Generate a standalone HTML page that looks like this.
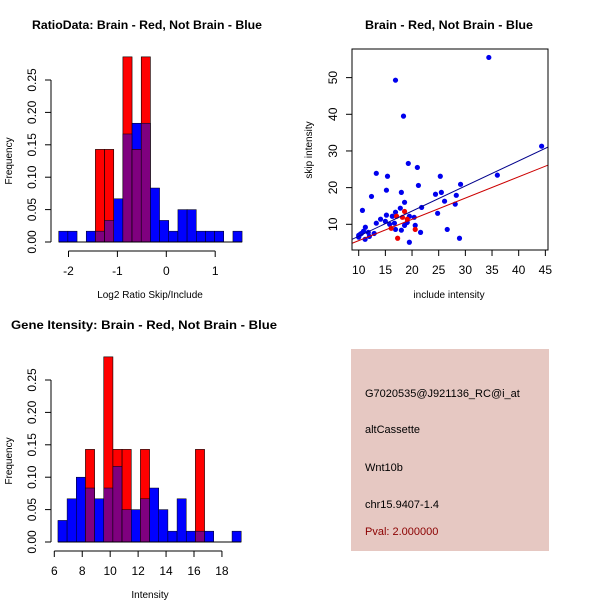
<!DOCTYPE html>
<html><head><meta charset="utf-8"><style>
body{margin:0;background:#fff}
svg{display:block;font-family:"Liberation Sans",sans-serif}
</style></head><body>
<svg id="c" width="600" height="600" viewBox="0 0 600 600">
<rect x="0" y="0" width="600" height="600" fill="#fff"/>
</svg>
<script>
// ---- Panel 1: ratio histogram ----
const ratioBinStart = -2.2;
const ratioBinWidth = 0.1875;
const ratioBlue = [0.0167,0.0167,0,0.0167,0.0167,0.0333,0.0667,0.1667,0.1833,0.1833,0.0833,0.0333,0.0167,0.05,0.05,0.0167,0.0167,0.0167,0,0.0167];
const ratioRed  = [0,0,0,0,0.1429,0.1429,0,0.2857,0.1429,0.2857,0,0,0,0,0,0,0,0,0,0];
const ratioXTicks = [-2,-1,0,1];
const freqTicks = [0,0.05,0.10,0.15,0.20,0.25];
const freqTickLabels = ["0.00","0.05","0.10","0.15","0.20","0.25"];
// ---- Panel 3: intensity histogram ----
const intBinStart = 6.26;
const intBinWidth = 0.656;
const intBlue = [0.0333,0.0667,0.1,0.0833,0.0667,0.0833,0.1167,0.05,0.05,0.0667,0.0833,0.05,0.0167,0.0667,0.0167,0.0167,0.0167,0,0,0.0167];
const intRed  = [0,0,0,0.1429,0,0.2857,0.1429,0.1429,0,0.1429,0,0,0,0,0,0.1429,0,0,0,0];
const intXTicks = [6,8,10,12,14,16,18];
// ---- Panel 2: scatter ----
const blueX = [34.4,16.9,18.4,44.3,36,19.3,21,13.3,15.4,25.3,29.1,21.2,15.2,18,25.5,24.4,28.3,12.4,26.1,18.6,28.1,21.8,17.8,10.7,16.9,15.2,24.8,16.3,19.5,20.4,14.1,15,13.3,15.8,16.7,20.6,19.1,18.6,11.25,18,16.9,26.6,21.6,12.9,10.3,10,10.9,11.8,11.2,12,28.9,19.5,10,10.5];
const blueY = [55.5,49.3,39.5,31.3,23.4,26.6,25.5,23.9,23.1,23.1,20.9,20.6,19.3,18.7,18.7,18.2,17.9,17.6,16.3,16,15.5,14.6,14.4,13.8,13.3,12.5,13,12.2,12.2,11.9,11.4,10.8,10.3,10,10.3,9.7,10.5,9.7,9.2,8.4,8.6,8.6,7.8,7.5,7.3,7,8.1,7.8,5.9,6.7,6.2,5.1,6.5,7.5];
const redX = [18.6,18.2,19.1,17.3,20.6,16.1,17.1];
const redY = [13.5,11.9,11.4,6.2,8.6,8.9,12.2];
const fitIntercepts = [-0.1,-0.25]; // blue, red
const fitSlopes = [0.685,0.58];
const scXTicks = [10,15,20,25,30,35,40,45];
const scYTicks = [10,20,30,40,50];

const svg = document.getElementById('c');
const NS = 'http://www.w3.org/2000/svg';
function mk(tag, attrs, parent){const e=document.createElementNS(NS,tag);for(const k in attrs)e.setAttribute(k,attrs[k]);(parent||svg).appendChild(e);return e;}
function txt(s, attrs, parent){const e=mk('text',attrs,parent);e.textContent=s;return e;}

function hist(g, xs, start, width, blue, red, xticks, yBase, xlabel, title, titleX, titleLen){
  const X=v=>xs.x0+(v-xs.v0)*xs.k;
  const Y=v=>yBase-v*648;
  for(let i=0;i<blue.length;i++){
    const x0=X(start+i*width), x1=X(start+(i+1)*width);
    const b=blue[i], r=red[i], m=Math.min(b,r);
    if(b>0){const e=mk('rect',{x:x0,y:Y(b),width:x1-x0,height:b*648,fill:'#0000ff',stroke:'#000','stroke-width':0.5},g);
      }
    if(r>0){const e=mk('rect',{x:x0,y:Y(r),width:x1-x0,height:r*648,fill:'#ff0000',stroke:'#000','stroke-width':0.6},g);
      }
    if(m>0){const e=mk('rect',{x:x0,y:Y(m),width:x1-x0,height:m*648,fill:'#7f007f',stroke:'#000','stroke-width':0.5},g);
      }
  }
  mk('line',{x1:X(start),x2:X(start+blue.length*width),y1:yBase,y2:yBase,stroke:'#000'},g);
  const ax=mk('g',{},g);
  const ya=yBase+9;
  mk('line',{x1:X(xticks[0]),x2:X(xticks[xticks.length-1]),y1:ya,y2:ya,stroke:'#000'},ax);
  xticks.forEach(t=>{mk('line',{x1:X(t),x2:X(t),y1:ya,y2:ya+6,stroke:'#000'},ax);
    txt(String(t),{x:X(t),y:ya+24,'font-size':12,'text-anchor':'middle'},ax);});
  const ay=mk('g',{},g);
  const xa=51;
  mk('line',{x1:xa,x2:xa,y1:Y(0),y2:Y(0.25),stroke:'#000'},ay);
  freqTicks.forEach((t,i)=>{mk('line',{x1:xa-6,x2:xa,y1:Y(t),y2:Y(t),stroke:'#000'},ay);
    txt(freqTickLabels[i],{x:0,y:0,'font-size':12,'text-anchor':'middle',transform:`translate(36,${Y(t)}) rotate(-90)`},ay);});
  const yl=txt('Frequency',{x:0,y:0,'font-size':10,'text-anchor':'middle',transform:`translate(12,${Y(0.125)}) rotate(-90)`},g);
  
  const xl=txt(xlabel,{x:150,y:yBase+56,'font-size':10,'text-anchor':'middle'},g);
  
  const tt=txt(title,{x:titleX,y:yBase-213,'font-size':12,'font-weight':'bold','text-anchor':'middle',textLength:titleLen,lengthAdjust:'spacingAndGlyphs'},g);
  
}
const g1=mk('g',{});
hist(g1,{x0:166.3,v0:0,k:48.9},ratioBinStart,ratioBinWidth,ratioBlue,ratioRed,ratioXTicks,242,'Log2 Ratio Skip/Include','RatioData: Brain - Red, Not Brain - Blue',147,230);
const g3=mk('g',{});
hist(g3,{x0:54.3,v0:6,k:13.97},intBinStart,intBinWidth,intBlue,intRed,intXTicks,542,'Intensity','Gene Itensity: Brain - Red, Not Brain - Blue',144,266);

// scatter
const g2=mk('g',{});
const SX=v=>358.7+(v-10)*5.333, SY=v=>224.3-(v-10)*3.667;
const L=352,R=548,T=49,B=250;
const clip=mk('clipPath',{id:'sc'},g2);mk('rect',{x:L,y:T,width:R-L,height:B-T},clip);
const pts=mk('g',{'clip-path':'url(#sc)'},g2);
blueX.forEach((x,i)=>{const c=mk('circle',{cx:SX(x),cy:SY(blueY[i]),r:2.6,fill:'#0000ee'},pts);
  });
redX.forEach((x,i)=>{const c=mk('circle',{cx:SX(x),cy:SY(redY[i]),r:2.6,fill:'#ee0000'},pts);
  });
const lineCols=['#00008b','#cc0000'];
fitIntercepts.forEach((a,i)=>{const xa=8.5,xb=46;const l=mk('line',{x1:SX(xa),y1:SY(a+fitSlopes[i]*xa),x2:SX(xb),y2:SY(a+fitSlopes[i]*xb),stroke:lineCols[i],'stroke-width':1},pts);
  });
mk('rect',{x:L,y:T,width:R-L,height:B-T,fill:'none',stroke:'#000'},g2);
const sxa=mk('g',{},g2);
scXTicks.forEach(t=>{mk('line',{x1:SX(t),x2:SX(t),y1:B,y2:B+6,stroke:'#000'},sxa);
  txt(String(t),{x:SX(t),y:274,'font-size':12,'text-anchor':'middle'},sxa);});
const sya=mk('g',{},g2);
scYTicks.forEach(t=>{mk('line',{x1:L-6,x2:L,y1:SY(t),y2:SY(t),stroke:'#000'},sya);
  txt(String(t),{x:0,y:0,'font-size':12,'text-anchor':'middle',transform:`translate(337,${SY(t)}) rotate(-90)`},sya);});
const sxl=txt('include intensity',{x:449,y:298,'font-size':10,'text-anchor':'middle'},g2);

const syl=txt('skip intensity',{x:0,y:0,'font-size':10,'text-anchor':'middle',transform:'translate(312,150) rotate(-90)'},g2);

const st=txt('Brain - Red, Not Brain - Blue',{x:449,y:29,'font-size':12,'font-weight':'bold','text-anchor':'middle',textLength:168,lengthAdjust:'spacingAndGlyphs'},g2);


// info box
const g4=mk('g',{});
mk('rect',{x:351,y:349,width:198,height:202,fill:'#e6c8c2'},g4);
const info=[['G7020535@J921136_RC@i_at',397,'#000','probe-id'],['altCassette',433,'#000','event-type'],['Wnt10b',471,'#000','gene-name'],['chr15.9407-1.4',508,'#000','location'],['Pval: 2.000000',535,'#8b0000','p-value']];
info.forEach(d=>{const t=txt(d[0],{x:365,y:d[1],'font-size':11,fill:d[2]},g4);
  });
</script>
</body></html>
